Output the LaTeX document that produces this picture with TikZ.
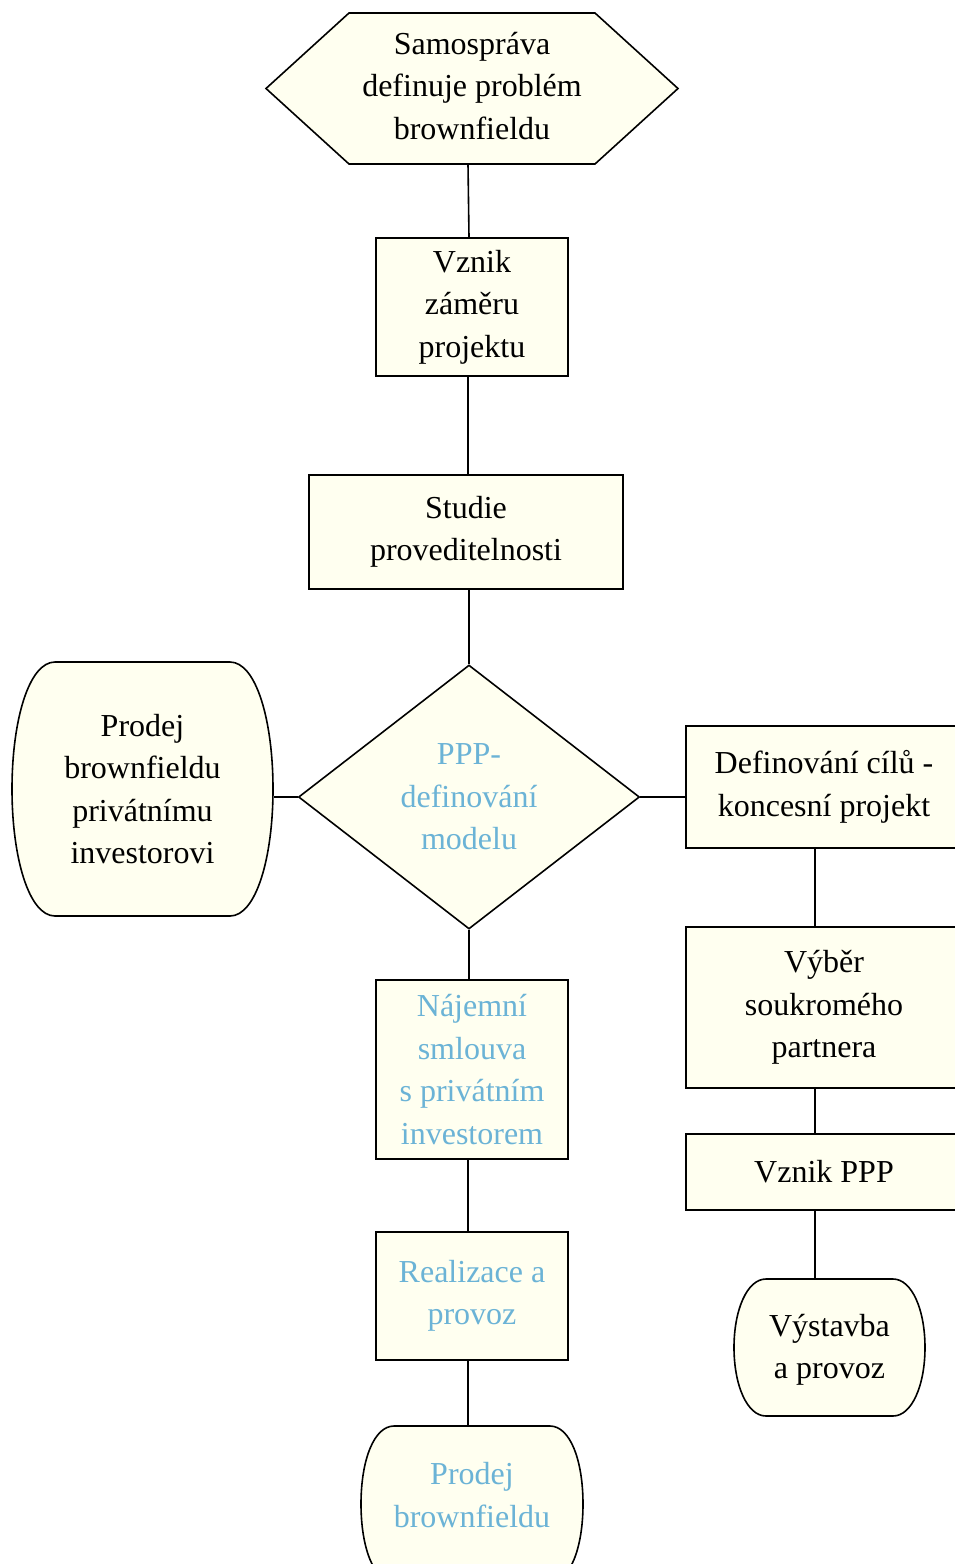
\documentclass[tikz,border=0pt]{standalone}
\usepackage{fontspec}
\setmainfont{Liberation Serif}
\usetikzlibrary{shapes.geometric}

\definecolor{boxfill}{RGB}{255,255,240}
\definecolor{modeltext}{RGB}{107,179,214}

\begin{document}
\begin{tikzpicture}[x=1pt,y=1pt,yscale=-1,
	font=\fontsize{32}{42.5}\selectfont,
	line width=1.6pt,
	box/.style={draw=black,fill=boxfill,rectangle,inner sep=0pt,align=center},
	plain/.style={draw=none,inner sep=0pt,align=center},
	outline/.style={draw=black,fill=boxfill},
	model/.style={text=modeltext}]

	\useasboundingbox (0,0) rectangle (955,1564);
	\clip (0,0) rectangle (955,1564);

	%%OUTLINES---------------------------------------------
	%Hexagon top
	\draw [outline] (349,13) -- (595,13) -- (678,88.5) -- (595,164) -- (349,164) -- (266,88.5) -- cycle;
	%Left rounded shape
	\draw [outline] (55,662) -- (230,662) .. controls (256,662) and (273,720) .. (273,789) .. controls (273,858) and (256,916) .. (230,916) -- (55,916) .. controls (29,916) and (12,858) .. (12,789) .. controls (12,720) and (29,662) .. (55,662) -- cycle;
	%Right rounded shape
	\draw [outline] (766,1279) -- (893,1279) .. controls (912,1279) and (925,1310) .. (925,1347.5) .. controls (925,1385) and (912,1416) .. (893,1416) -- (766,1416) .. controls (747,1416) and (734,1385) .. (734,1347.5) .. controls (734,1310) and (747,1279) .. (766,1279) -- cycle;
	%Bottom rounded shape
	\draw [outline] (394,1426) -- (550,1426) .. controls (570,1426) and (583,1460) .. (583,1504) .. controls (583,1548) and (570,1582) .. (550,1582) -- (394,1582) .. controls (374,1582) and (361,1548) .. (361,1504) .. controls (361,1460) and (374,1426) .. (394,1426) -- cycle;
	%%----------------------------------------------------------------

	% Text Node
	\node [plain,minimum width=412,minimum height=151] (samo) at (472,86) {Samospráva\\definuje problém\\brownfieldu};
	% Text Node
	\node [box,minimum width=192,minimum height=138] (zamer) at (472,307) {Vznik\\záměru\\projektu};
	% Text Node
	\node [box,minimum width=314,minimum height=114] (studie) at (466,532) {Studie\\proveditelnosti};
	% Text Node
	\node [box,model,diamond,minimum width=341,minimum height=264,aspect=1.29] (ppp) at (469,797) {PPP-\\definování\\modelu};
	% Text Node
	\node [plain,minimum width=261,minimum height=254] (prodejinv) at (142.5,789) {Prodej\\brownfieldu\\privátnímu\\investorovi};
	% Text Node
	\node [box,minimum width=276,minimum height=122] (cile) at (824,787) {Definování cílů -\\koncesní projekt};
	% Text Node
	\node [box,minimum width=276,minimum height=161] (vyber) at (824,1007.5) {Výběr\\soukromého\\partnera};
	% Text Node
	\node [box,minimum width=276,minimum height=76] (vznikppp) at (824,1172) {Vznik PPP};
	% Text Node
	\node [plain,minimum width=191,minimum height=137] (vystavba) at (829.5,1350) {Výstavba\\a provoz};
	% Text Node
	\node [box,model,minimum width=192,minimum height=179] (najem) at (472,1069.5) {Nájemní\\smlouva\\s privátním\\investorem};
	% Text Node
	\node [box,model,minimum width=192,minimum height=128] (realizace) at (472,1296) {Realizace a\\provoz};
	% Text Node
	\node [plain,model,minimum width=222,minimum height=156] (prodejbf) at (472,1495) {Prodej\\brownfieldu};

	%%CONNECTORS-------------------------------------------
	\draw ([xshift=-4]samo.south |- 0,164) -- ([xshift=-3]zamer.north);
	\draw ([xshift=-4]zamer.south) -- ([xshift=-4]zamer.south |- studie.north);
	\draw (studie.south -| ppp.north) -- (ppp.north);
	\draw (ppp.west) -- (ppp.west -| prodejinv.east);
	\draw (ppp.east) -- (ppp.east -| cile.west);
	\draw (ppp.south) -- (ppp.south |- najem.north);
	\draw ([xshift=-4]najem.south) -- ([xshift=-4]realizace.north);
	\draw ([xshift=-4]realizace.south) -- ([xshift=-4]realizace.south |- 0,1426);
	%right column
	\draw ([xshift=-9]cile.south) -- ([xshift=-9]vyber.north);
	\draw ([xshift=-9]vyber.south) -- ([xshift=-9]vznikppp.north);
	\draw ([xshift=-9]vznikppp.south) -- ([xshift=-9]vznikppp.south |- 0,1279);

\end{tikzpicture}
\end{document}
